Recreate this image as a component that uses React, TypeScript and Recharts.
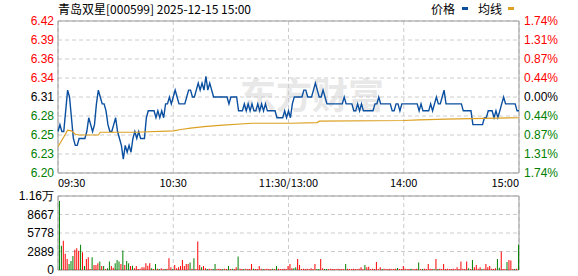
import { ComposedChart, Line, Bar, Cell, XAxis, YAxis, CartesianGrid, ReferenceArea } from 'recharts'

const PREV_CLOSE = 6.31

// minute-by-minute price, 09:30 .. 15:00 (241 points)
const PRICE = [
  6.26, 6.27, 6.26, 6.26, 6.29, 6.32, 6.31, 6.28, 6.25, 6.24,
  6.24, 6.25, 6.25, 6.25, 6.25, 6.26, 6.28, 6.27, 6.26, 6.27,
  6.30, 6.32, 6.31, 6.30, 6.30, 6.29, 6.27, 6.26, 6.26, 6.27,
  6.28, 6.26, 6.25, 6.24, 6.22, 6.24, 6.23, 6.24, 6.23, 6.25,
  6.26, 6.25, 6.26, 6.25, 6.25, 6.25, 6.28, 6.29, 6.29, 6.29,
  6.29, 6.28, 6.29, 6.28, 6.29, 6.28, 6.30, 6.30, 6.31, 6.30,
  6.31, 6.32, 6.31, 6.30, 6.30, 6.30, 6.30, 6.31, 6.32, 6.32,
  6.31, 6.31, 6.32, 6.33, 6.32, 6.33, 6.32, 6.34, 6.32, 6.33,
  6.32, 6.31, 6.31, 6.31, 6.31, 6.31, 6.31, 6.31, 6.31, 6.30,
  6.31, 6.31, 6.31, 6.31, 6.29, 6.29, 6.29, 6.30, 6.29, 6.30,
  6.29, 6.30, 6.29, 6.29, 6.30, 6.29, 6.30, 6.29, 6.30, 6.29,
  6.29, 6.29, 6.29, 6.29, 6.28, 6.28, 6.28, 6.28, 6.29, 6.28,
  6.29, 6.28, 6.30, 6.31, 6.31, 6.31, 6.31, 6.31, 6.32, 6.32,
  6.31, 6.31, 6.31, 6.32, 6.33, 6.32, 6.31, 6.31, 6.32, 6.31,
  6.30, 6.30, 6.30, 6.30, 6.30, 6.30, 6.30, 6.30, 6.30, 6.31,
  6.30, 6.30, 6.30, 6.30, 6.29, 6.29, 6.30, 6.29, 6.30, 6.29,
  6.29, 6.29, 6.29, 6.29, 6.29, 6.30, 6.30, 6.31, 6.30, 6.30,
  6.30, 6.30, 6.30, 6.30, 6.29, 6.29, 6.30, 6.30, 6.29, 6.30,
  6.30, 6.30, 6.30, 6.30, 6.30, 6.30, 6.30, 6.30, 6.29, 6.30,
  6.29, 6.29, 6.29, 6.29, 6.30, 6.29, 6.30, 6.31, 6.30, 6.30,
  6.31, 6.32, 6.30, 6.30, 6.30, 6.30, 6.30, 6.30, 6.30, 6.30,
  6.30, 6.29, 6.29, 6.29, 6.29, 6.29, 6.27, 6.27, 6.27, 6.27,
  6.27, 6.27, 6.28, 6.28, 6.29, 6.29, 6.29, 6.28, 6.29, 6.28,
  6.29, 6.30, 6.31, 6.30, 6.30, 6.30, 6.30, 6.30, 6.30, 6.29,
  6.29,
]

// average price line, read at a few minutes
const AVG_T = [0, 3, 5, 7, 9, 11, 21, 22, 40, 60, 64, 69, 76, 84, 101, 121, 135, 136, 180, 188, 202, 240]
const AVG_V = [6.238, 6.252, 6.262, 6.261, 6.256, 6.255, 6.255, 6.259, 6.259, 6.261, 6.263, 6.265, 6.267, 6.269, 6.272, 6.272, 6.273, 6.275, 6.276, 6.277, 6.278, 6.28]

// volume per minute (shares)
const VOLUME = [
  0, 10760, 3780, 4570, 2520, 1730, 945, 1420, 2200, 3150,
  3410, 2990, 3940, 2780, 630, 1730, 1995, 150, 1995, 790,
  790, 1050, 1310, 630, 630, 150, 260, 1310, 630, 350,
  1050, 1575, 1310, 945, 3045, 790, 1420, 1050, 630, 680,
  260, 630, 150, 200, 420, 420, 1050, 680, 1050, 260,
  150, 945, 200, 150, 260, 150, 150, 200, 1840, 420,
  150, 790, 260, 420, 630, 1575, 630, 945, 945, 1155,
  200, 1840, 150, 4460, 790, 420, 630, 260, 150, 200,
  150, 150, 945, 150, 200, 150, 150, 200, 150, 630,
  150, 200, 150, 420, 2100, 200, 150, 150, 200, 150,
  150, 945, 200, 150, 150, 630, 200, 150, 150, 200,
  150, 150, 200, 150, 630, 200, 150, 150, 200, 150,
  630, 945, 260, 260, 420, 1730, 790, 150, 200, 150,
  200, 150, 260, 150, 945, 150, 150, 1730, 260, 150,
  150, 150, 200, 150, 150, 150, 200, 150, 150, 150,
  945, 200, 150, 150, 200, 150, 150, 200, 420, 150,
  790, 420, 525, 150, 200, 150, 1260, 150, 420, 150,
  200, 150, 150, 200, 150, 150, 200, 315, 150, 150,
  630, 200, 150, 150, 200, 150, 150, 200, 1155, 150,
  150, 200, 150, 945, 200, 150, 150, 1730, 150, 200,
  150, 945, 150, 200, 150, 150, 200, 150, 420, 150,
  1310, 200, 150, 1310, 260, 150, 1575, 420, 790, 200,
  420, 150, 200, 945, 420, 630, 200, 150, 260, 1730,
  350, 2890, 150, 150, 1260, 1575, 1470, 150, 150, 200,
  3940,
]

// R = up tick (red), G = down tick (green)
const VOL_SIDE = [
  'GGGRRRGGGR', 'RRGRGRRRGR', 'RRGRGRGGRR', 'GGGRGRGGRG', 'RRRRRRRRRG',
  'RGRGRRGRRR', 'GRRRRRRRRG', 'RGRRRGRRGR', 'RGGRRRGRRG', 'RGRRGRRGRR',
  'RRGRRRRGRR', 'RRGRGRRRRR', 'RRRGGRRRRR', 'RRRRRGGRRG', 'GRRRRRRRRR',
  'GRRRRRRRRR', 'GRRRRRRRRG', 'RRRRRRRGRR', 'RRRRGRRRGR', 'GRRRRRGRGR',
  'RRRRRRRRRR', 'RRRRGRGRRR', 'RGRRRRRRRG', 'GRRRGRRRGR', 'G',
].join('')

const PRICE_TICKS = [6.2, 6.2275, 6.255, 6.2825, 6.31, 6.3375, 6.365, 6.3925, 6.42]
const PRICE_LABELS = ['6.20', '6.23', '6.25', '6.28', '6.31', '6.34', '6.36', '6.39', '6.42']
const PCT_LABELS = ['1.74%', '1.31%', '0.87%', '0.44%', '0.00%', '0.44%', '0.87%', '1.31%', '1.74%']
const TIME_TICKS = [0, 60, 120, 180, 240]
const TIME_LABELS = ['09:30', '10:30', '11:30/13:00', '14:00', '15:00']
const VOL_TICKS = [0, 2889, 5778, 8667, 11556]
const VOL_LABELS = ['0', '2889', '5778', '8667', '1.16万']

const RED = '#ff0000'
const GREEN = '#008000'
const BLUE = '#0a4fa0'
const GOLD = '#dca022'
const GRID = '#cccccc'
const BORDER = '#999999'
const NUM_FONT = '"Liberation Sans", Arial, sans-serif'
const CJK_FONT = '"Noto Sans CJK SC", sans-serif'

const priceData = PRICE.map((p, i) => ({ t: i, price: p }))
const avgData = AVG_T.map((t, i) => ({ t, avg: AVG_V[i] }))
const volData = VOLUME.map((v, i) => ({ t: i, vol: v, side: VOL_SIDE[i] }))

const tickColor = (v: number) => (Math.abs(v - PREV_CLOSE) < 1e-6 ? '#000' : v > PREV_CLOSE ? RED : GREEN)

const PriceTick = ({ y, payload, index }: any) => (
  <text x={54} y={y} dy={4} textAnchor="end" fill={tickColor(payload.value)} fontSize={12} fontFamily={NUM_FONT}>
    {PRICE_LABELS[index]}
  </text>
)

const PctTick = ({ y, payload, index }: any) => (
  <text x={524} y={y} dy={4} textAnchor="start" fill={tickColor(payload.value)} fontSize={12} fontFamily={NUM_FONT}>
    {PCT_LABELS[index]}
  </text>
)

const TimeTick = ({ x, index }: any) => {
  const anchor = index === 0 ? 'start' : index === TIME_TICKS.length - 1 ? 'end' : 'middle'
  return (
    <text x={x} y={187} textAnchor={anchor} fill="#000" fontSize={11} fontFamily={CJK_FONT}>
      {TIME_LABELS[index]}
    </text>
  )
}

const VolTick = ({ y, index }: any) => (
  <text x={54} y={y} dy={4} textAnchor="end" fill="#000" fontSize={12} fontFamily={NUM_FONT}>
    {VOL_LABELS[index]}
  </text>
)

export default function App() {
  return (
    <div style={{ position: 'absolute', left: 0, top: 0, width: 578, height: 276, background: '#fff', overflow: 'hidden' }}>
      {/* title */}
      <div style={{ position: 'absolute', left: 58, top: 0, fontSize: 12, lineHeight: '17px', fontFamily: CJK_FONT, color: '#000', whiteSpace: 'nowrap' }}>
        青岛双星[000599] 2025-12-15 15:00
      </div>
      {/* legend */}
      <div style={{ position: 'absolute', left: 431, top: 0, fontSize: 12, lineHeight: '17px', fontFamily: CJK_FONT, color: '#000' }}>价格</div>
      <div style={{ position: 'absolute', left: 462, top: 7, width: 6, height: 3, background: BLUE }} />
      <div style={{ position: 'absolute', left: 478, top: 0, fontSize: 12, lineHeight: '17px', fontFamily: CJK_FONT, color: '#000' }}>均线</div>
      <div style={{ position: 'absolute', left: 508, top: 7, width: 6, height: 3, background: GOLD }} />
      {/* watermark */}
      <div style={{ position: 'absolute', left: 240, top: 72, fontSize: 36, lineHeight: '42px', fontWeight: 700, fontFamily: CJK_FONT, color: '#e8e8e8', whiteSpace: 'nowrap' }}>
        东方财富
      </div>

      <div style={{ position: 'absolute', left: 0, top: 0 }}>
        <ComposedChart width={578} height={200} data={priceData} margin={{ top: 21, right: 0, bottom: 0, left: 0 }}>
          <CartesianGrid yAxisId="l" stroke={GRID} strokeDasharray="4 3" />
          <XAxis
            type="number"
            dataKey="t"
            domain={[0, 240]}
            ticks={TIME_TICKS}
            height={27}
            tick={<TimeTick />}
            axisLine={false}
            tickLine={false}
            interval={0}
          />
          <YAxis
            yAxisId="l"
            type="number"
            domain={[6.2, 6.42]}
            ticks={PRICE_TICKS}
            width={58}
            tick={<PriceTick />}
            axisLine={false}
            tickLine={false}
            interval={0}
            allowDataOverflow
          />
          <YAxis
            yAxisId="r"
            orientation="right"
            type="number"
            domain={[6.2, 6.42]}
            ticks={PRICE_TICKS}
            width={59}
            tick={<PctTick />}
            axisLine={false}
            tickLine={false}
            interval={0}
            allowDataOverflow
          />
          <ReferenceArea yAxisId="l" x1={0} x2={240} y1={6.2} y2={6.42} fill="none" stroke={BORDER} strokeWidth={1} ifOverflow="visible" />
          <Line yAxisId="l" type="linear" dataKey="price" stroke={BLUE} strokeWidth={1.4} dot={false} isAnimationActive={false} />
          <Line yAxisId="l" type="linear" data={avgData} dataKey="avg" stroke={GOLD} strokeWidth={1.2} dot={false} isAnimationActive={false} />
        </ComposedChart>
      </div>

      <div style={{ position: 'absolute', left: 0, top: 0 }}>
        <ComposedChart width={578} height={276} data={volData} margin={{ top: 196, right: 59, bottom: 6, left: 0 }}>
          <CartesianGrid stroke={GRID} strokeDasharray="4 3" />
          <XAxis type="number" dataKey="t" domain={[0, 240]} ticks={TIME_TICKS} hide height={0} />
          <YAxis
            type="number"
            domain={[0, 11556]}
            ticks={VOL_TICKS}
            width={58}
            tick={<VolTick />}
            axisLine={false}
            tickLine={false}
            interval={0}
            allowDataOverflow
          />
          <ReferenceArea x1={0} x2={240} y1={0} y2={11556} fill="none" stroke={BORDER} strokeWidth={1} ifOverflow="visible" />
          <Bar dataKey="vol" barSize={1} isAnimationActive={false}>
            {volData.map((d) => (
              <Cell key={d.t} fill={d.side === 'R' ? RED : GREEN} />
            ))}
          </Bar>
        </ComposedChart>
      </div>
    </div>
  )
}
